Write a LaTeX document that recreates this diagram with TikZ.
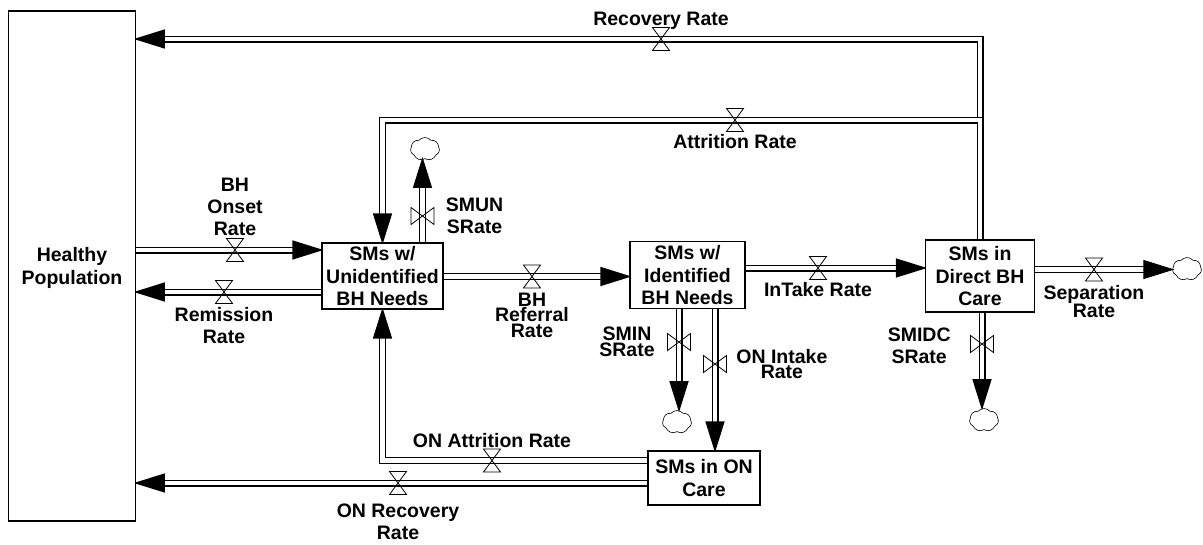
\documentclass[tikz,border=0pt]{standalone}
\usepackage{fontspec}
\setmainfont{Liberation Sans}
\usetikzlibrary{arrows.meta, positioning, backgrounds, shapes.symbols}
\tikzset{
  stock/.style  = {draw, fill=white, line width=1.1pt, align=center, inner sep=0pt, text depth=0pt,
                   font=\fontsize{19.5}{22.5}\selectfont\bfseries},
  lbl/.style    = {align=center, inner sep=0pt, font=\fontsize{19.5}{22}\selectfont\bfseries},
  lbltight/.style = {lbl, font=\fontsize{19.5}{15.5}\selectfont\bfseries},
  pipe/.style   = {double, double distance=4.4pt, line width=1.3pt},
  flow/.style   = {pipe, shorten >=-2pt, -{Triangle[length=31pt, width=19pt]}},
  valveh/.style = {minimum width=21pt, minimum height=26pt, inner sep=0pt,
                   path picture={\draw[line width=.8pt] (path picture bounding box.center)
                     +(-8.5,-11.5) -- +(8.5,11.5) -- +(-8.5,11.5) -- +(8.5,-11.5) -- cycle;}},
  valvev/.style = {minimum width=26pt, minimum height=21pt, inner sep=0pt,
                   path picture={\draw[line width=.8pt] (path picture bounding box.center)
                     +(-11.5,-8.5) -- +(11.5,8.5) -- +(11.5,-8.5) -- +(-11.5,8.5) -- cycle;}},
  sink/.style   = {cloud, cloud puffs=7, cloud puff arc=100, aspect=1.2, draw, line width=.6pt,
                   minimum width=29pt, minimum height=23pt, inner sep=0pt},
}
\begin{document}
\begin{tikzpicture}[x=1pt, y=-1pt, node distance=3pt]
    \useasboundingbox (0,0) rectangle (1203,544);
    % stocks
    \node[stock, minimum width=126.5pt, minimum height=510pt] (hp) at (72,266) {Healthy\\ Population};
    \node[stock, minimum width=121pt, minimum height=66pt] (unid) at (382.5,276) {SMs w/\\ Unidentified\\ BH Needs};
    \node[stock, minimum width=115pt, minimum height=67pt] (iden) at (687.5,275) {SMs w/\\ Identified\\ BH Needs};
    \node[stock, minimum width=109pt, minimum height=72pt] (dirc) at (980,276) {SMs in\\ Direct BH\\ Care};
    \node[stock, minimum width=112pt, minimum height=54pt] (onc) at (704,478) {SMs in ON\\ Care};
    % clouds
    \node[sink] (cun) at (425,149) {};
    \node[sink] (cin) at (677,422) {};
    \node[sink] (cdc) at (984,420) {};
    \node[sink] (csep) at (1187,269) {};
    % valves
    \node[valveh] (vrec) at (661,39) {};
    \node[valveh] (vattr) at (735,120) {};
    \node[valveh] (vonset) at (235,250) {};
    \node[valveh] (vrem) at (224,292) {};
    \node[valvev] (vsmun) at (422.5,216) {};
    \node[valveh] (vref) at (532,276.5) {};
    \node[valveh] (vint) at (818,268) {};
    \node[valveh] (vsep) at (1094,269.5) {};
    \node[valvev] (vsmin) at (679,342) {};
    \node[valvev] (vonin) at (715,364) {};
    \node[valvev] (vsmdc) at (982,344) {};
    \node[valveh] (vonat) at (492,460.5) {};
    \node[valveh] (vonrec) at (398,483) {};
    % labels
    \node[lbl, above=-4pt of vrec] {Recovery Rate};
    \node[lbl, below=1pt of vattr] {Attrition Rate};
    \node[lbl, above=1pt of vonset] {BH\\ Onset\\ Rate};
    \node[lbl, below=2pt of vrem] {Remission\\ Rate};
    \node[lbl, right=10pt of vsmun] {SMUN\\ SRate};
    \node[lbltight, below=3pt of vref] {BH\\ Referral\\ Rate};
    \node[lbl, below=1pt of vint] {InTake Rate};
    \node[lbltight, below=2pt of vsep] {Separation\\ Rate};
    \node[lbltight, left=11pt of vsmin] {SMIN\\ SRate};
    \node[lbltight, right=8pt of vonin] {ON Intake\\ Rate};
    \node[lbl, left=18pt of vsmdc, yshift=-2pt] {SMIDC\\ SRate};
    \node[lbl, above=-1pt of vonat] {ON Attrition Rate};
    \node[lbl, below=7pt of vonrec] {ON Recovery\\ Rate};
    % pipes
    \begin{scope}[on background layer]
      \draw[flow] (dirc.north) -- (dirc.north |- vrec) -- (hp.east |- vrec);
      \draw[flow] (dirc.north) -- (dirc.north |- vattr) -- (unid.north |- vattr) -- (unid.north);
      \draw[flow] (hp.east |- vonset) -- (unid.west |- vonset);
      \draw[flow] (unid.west |- vrem) -- (hp.east |- vrem);
      \draw[flow] (vsmun |- unid.north) -- (vsmun |- cun.south);
      \draw[flow] (unid.east |- vref) -- (iden.west |- vref);
      \draw[flow] (iden.east |- vint) -- (dirc.west |- vint);
      \draw[flow] (dirc.east |- vsep) -- (csep.west |- vsep);
      \draw[flow] (vsmin |- iden.south) -- (vsmin |- cin.north);
      \draw[flow] (vonin |- iden.south) -- (vonin |- onc.north);
      \draw[flow] (vsmdc |- dirc.south) -- (vsmdc |- cdc.north);
      \draw[flow] (onc.west |- vonat) -- (unid.south |- vonat) -- (unid.south);
      \draw[flow] (onc.west |- vonrec) -- (hp.east |- vonrec);
    \end{scope}
  \end{tikzpicture}
\end{document}
